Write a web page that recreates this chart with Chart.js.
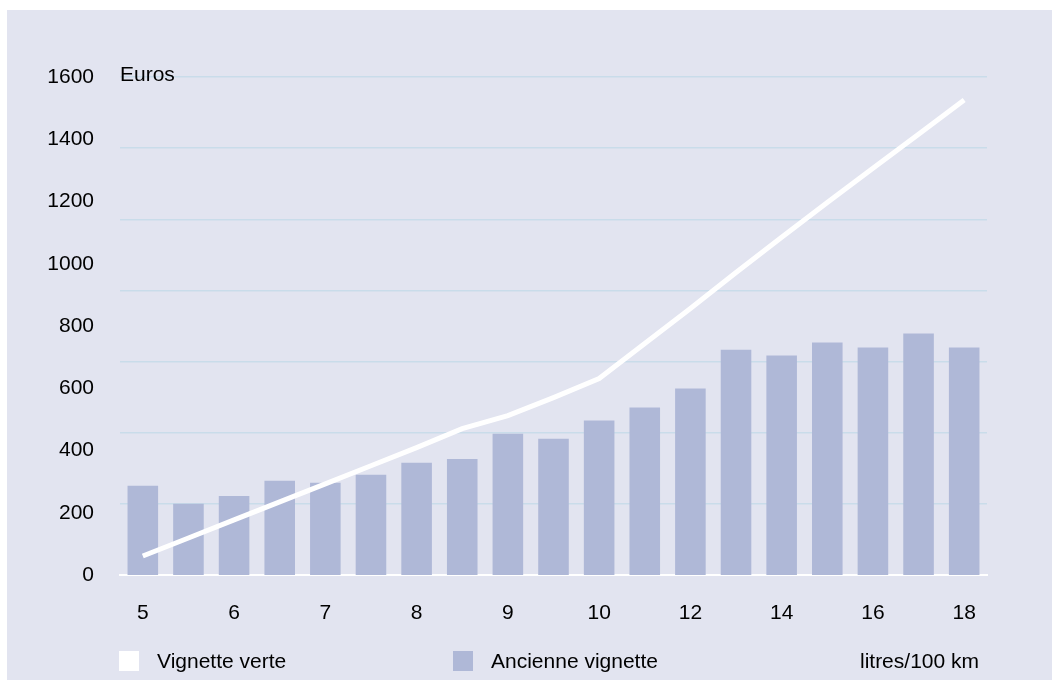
<!DOCTYPE html>
<html>
<head>
<meta charset="utf-8">
<script src="https://cdn.jsdelivr.net/npm/chart.js@4/dist/chart.umd.min.js"></script>
<style>
  html, body { margin: 0; padding: 0; background: #ffffff; }
  #panel { position: absolute; left: 7px; top: 10px; right: 0; bottom: 0; background: #e2e4f0; }
  #chart { position: absolute; left: 0; top: 0; }
</style>
</head>
<body>
<div id="panel"></div>
<canvas id="chart" width="1052" height="680"></canvas>
<script>
// litres/100 km
const categories = ["5", "5.5", "6", "6.5", "7", "7.5", "8", "8.5", "9", "9.5", "10", "11", "12", "13", "14", "15", "16", "17", "18"];
const shownLabels = ["5", "6", "7", "8", "9", "10", "12", "14", "16", "18"];

// Euros
const vignetteVerte = [61, 119, 177, 235, 293, 351, 409, 470, 512, 570, 631, 744, 856, 972, 1085, 1197, 1307, 1416, 1526];
const ancienneVignette = [287, 229, 254, 303, 296, 322, 361, 373, 454, 438, 496, 538, 599, 724, 705, 747, 731, 776, 731];

const FONT = "'Liberation Sans', Arial, sans-serif";
const TEXT = "#000000";

// Legend and the two free labels ("Euros", "litres/100 km")
const extrasPlugin = {
  id: "extras",
  afterDraw(chart) {
    const ctx = chart.ctx;
    const area = chart.chartArea;
    ctx.save();
    ctx.font = "21px " + FONT;
    ctx.fillStyle = TEXT;
    ctx.textBaseline = "middle";
    ctx.textAlign = "left";
    ctx.fillText("Euros", area.left, area.top - 2);

    const boxX = [119, 453];
    chart.data.datasets.forEach((ds, i) => {
      ctx.fillStyle = ds.legendColor;
      ctx.fillRect(boxX[i], 651, 20, 20);
      ctx.fillStyle = TEXT;
      ctx.fillText(ds.label, boxX[i] + 38, 662);
    });

    ctx.textAlign = "right";
    ctx.fillText("litres/100 km", 979, 662);
    ctx.restore();
  },
};

new Chart(document.getElementById("chart"), {
  data: {
    labels: categories,
    datasets: [
      {
        type: "line",
        label: "Vignette verte",
        data: vignetteVerte,
        borderColor: "#ffffff",
        legendColor: "#ffffff",
        borderWidth: 5,
        pointRadius: 0,
        tension: 0,
        yAxisID: "y",
      },
      {
        type: "bar",
        label: "Ancienne vignette",
        data: ancienneVignette,
        backgroundColor: "#afb8d7",
        legendColor: "#afb8d7",
        barPercentage: 0.67,
        categoryPercentage: 1,
        yAxisID: "y",
      },
    ],
  },
  options: {
    responsive: false,
    animation: false,
    layout: { padding: { top: 77, right: 65, left: 0, bottom: 0 } },
    plugins: {
      legend: { display: false },
      tooltip: { enabled: false },
    },
    scales: {
      x: {
        offset: true,
        grid: { display: false, drawTicks: false },
        border: { display: true, color: "#ffffff", width: 2 },
        ticks: {
          autoSkip: false,
          maxRotation: 0,
          padding: 26,
          color: TEXT,
          font: { family: FONT, size: 21 },
          callback: (value, index) => (shownLabels.includes(categories[index]) ? categories[index] : ""),
        },
        afterFit: (scale) => { scale.height = 105; },
      },
      y: {
        position: "left",
        min: 0,
        max: 1600,
        grid: { display: false, drawTicks: false },
        border: { display: false },
        ticks: {
          stepSize: 200,
          padding: 26,
          color: TEXT,
          font: { family: FONT, size: 21 },
          callback: (value) => String(value),
        },
        afterFit: (scale) => { scale.width = 120; },
      },
      // light grid lines, spaced on their own step
      grid: {
        position: "right",
        min: 0,
        max: 1400,
        grid: {
          drawTicks: false,
          color: (c) => (c.tick && c.tick.value === 0 ? "rgba(0,0,0,0)" : "#c9dcea"),
          lineWidth: 1.5,
        },
        border: { display: false },
        ticks: { display: false, stepSize: 200 },
        afterFit: (scale) => { scale.width = 0; },
      },
    },
  },
  plugins: [extrasPlugin],
});
</script>
</body>
</html>
